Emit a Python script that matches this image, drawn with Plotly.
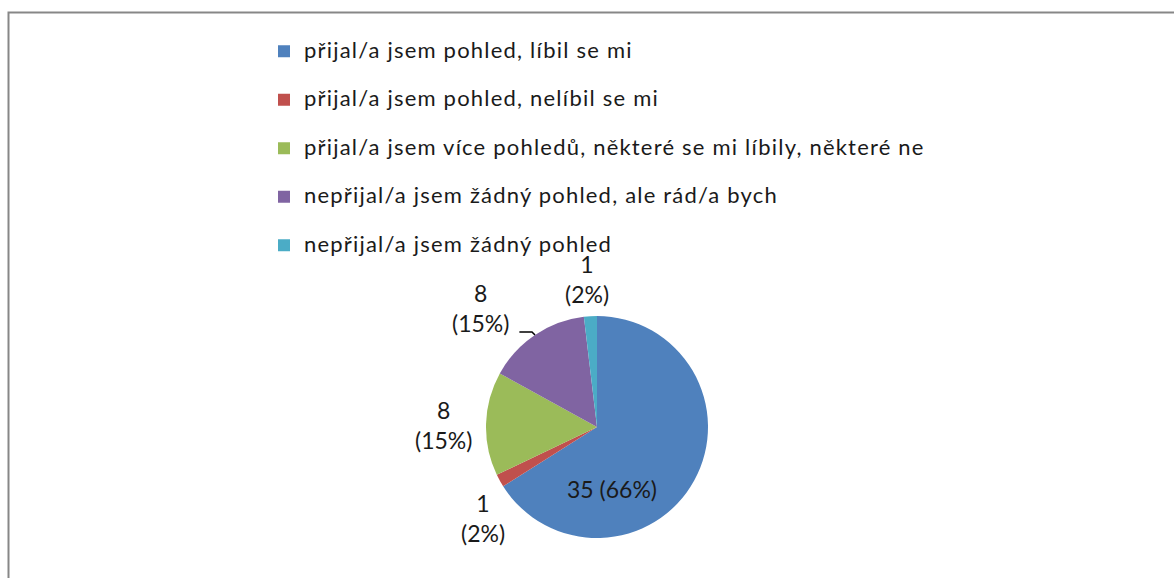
import math
import plotly.graph_objects as go

# ---- data ----
labels = [
    "přijal/a jsem pohled, líbil se mi",
    "přijal/a jsem pohled, nelíbil se mi",
    "přijal/a jsem více pohledů, některé se mi líbily, některé ne",
    "nepřijal/a jsem žádný pohled, ale rád/a bych",
    "nepřijal/a jsem žádný pohled",
]
values = [35, 1, 8, 8, 1]
colors = ["#4F81BD", "#C0504D", "#9BBB59", "#8064A2", "#4BACC6"]

# ---- layout / style ----
W, H = 1174, 578
FONT = "Lato"
TXT = "#1a1a1a"
cx_px, cy_px, R_px = 597, 427, 111
dom_x = [(cx_px - R_px) / W, (cx_px + R_px) / W]
dom_y = [1 - (cy_px + R_px) / H, 1 - (cy_px - R_px) / H]

# label placement (radius factor, angle nudge in degrees) per slice
label_r = [0.575, 1.315, 1.385, 1.50, 1.336]
label_dang = [47.5, -9.7, -1.0, -10.5, -0.5]
label_inside = [True, False, False, False, False]
leader = [False, False, False, True, False]

LEG_ROW = 35          # legend font size controlling the row pitch
LEG_TXT = 22          # visible legend text size

total = sum(values)
legend_names = [
    f"<span style='font-size:{LEG_TXT}px;baseline-shift:7px;letter-spacing:1.2px'>{t}</span>"
    for t in labels
]

fig = go.Figure()
fig.add_trace(go.Pie(
    labels=legend_names, values=values, sort=False, direction="clockwise", rotation=0,
    marker=dict(colors=colors, line=dict(width=0)),
    textinfo="none", hoverinfo="value+percent",
    domain=dict(x=dom_x, y=dom_y),
))

annotations = []
shapes = [dict(type="rect", xref="paper", yref="paper",
               x0=8.5 / W, y0=1 - 12.5 / H, x1=1.05, y1=-0.05,
               line=dict(color="#878787", width=2), fillcolor="rgba(0,0,0,0)")]
cum = 0
for i, v in enumerate(values):
    mid = (cum + v / 2) / total * 360
    cum += v
    pct = round(v / total * 100)
    a = math.radians(mid + label_dang[i])
    d = label_r[i] * R_px
    x = cx_px + d * math.sin(a)
    y = cy_px - d * math.cos(a)
    txt = f"{v} ({pct}%)" if label_inside[i] else f"{v}<br>({pct}%)"
    annotations.append(dict(
        x=x / W, y=1 - y / H, xref="paper", yref="paper", text=txt,
        showarrow=False, xanchor="center", yanchor="middle", align="center",
        font=dict(family=FONT, size=23, color=TXT),
    ))
    if leader[i]:
        am = math.radians(mid)
        ex = cx_px + R_px * math.sin(am)
        ey = cy_px - R_px * math.cos(am)
        pts = [(x + 39, ey - 3), (ex - 3, ey - 3), (ex, ey)]
        path = "M" + " L".join(f"{px / W},{1 - py / H}" for px, py in pts)
        shapes.append(dict(type="path", xref="paper", yref="paper", path=path,
                           line=dict(color="#000000", width=1.5)))

fig.update_layout(
    width=W, height=H, margin=dict(l=0, r=0, t=0, b=0),
    paper_bgcolor="white", plot_bgcolor="white",
    font=dict(family=FONT, size=18, color=TXT),
    showlegend=True,
    legend=dict(
        x=264 / W, y=1 - 22 / H, xanchor="left", yanchor="top",
        font=dict(family=FONT, size=LEG_ROW, color=TXT),
        bgcolor="rgba(0,0,0,0)", itemclick=False, itemdoubleclick=False,
        traceorder="normal",
    ),
    annotations=annotations,
    shapes=shapes,
)

fig.write_html("out.html", config={"displayModeBar": False},
               post_script="document.body.style.margin='0';")
